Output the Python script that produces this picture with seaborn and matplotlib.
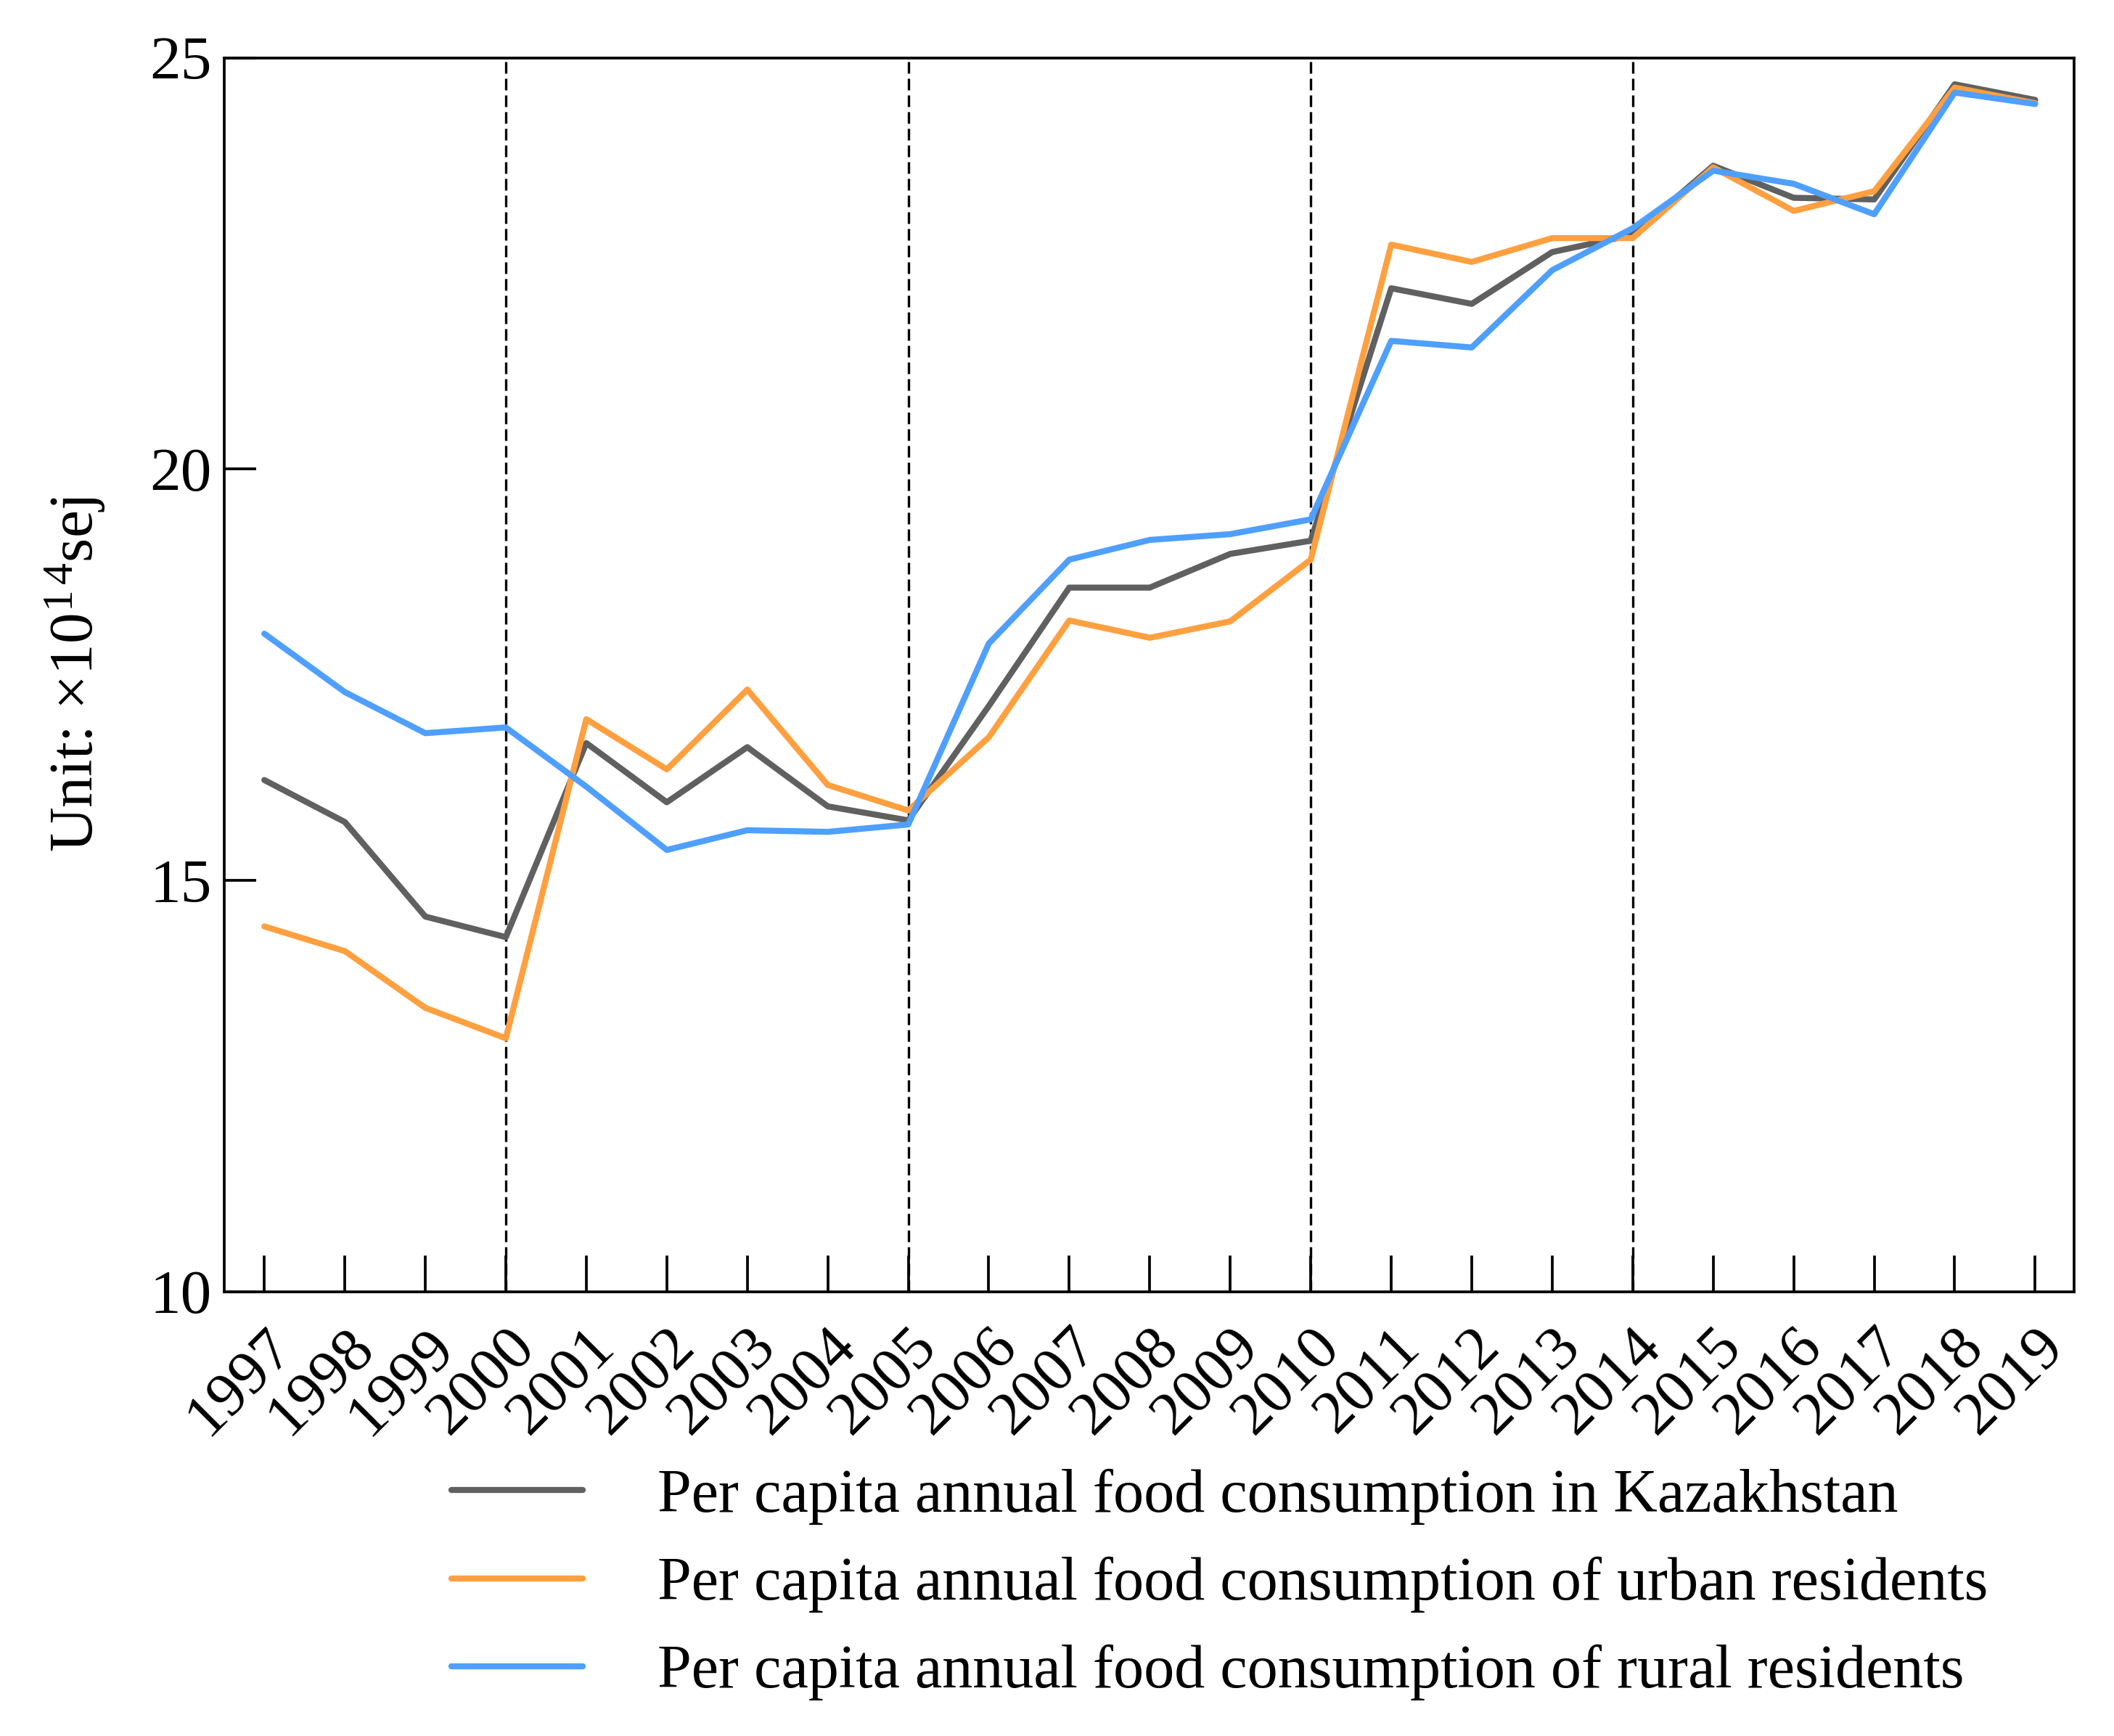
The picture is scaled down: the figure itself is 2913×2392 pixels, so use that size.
import matplotlib
matplotlib.use("Agg")
import matplotlib.pyplot as plt
import seaborn as sns
import pandas as pd

years = list(range(1997, 2020))
kazakhstan = [16.22, 15.71, 14.56, 14.31, 16.67, 15.95, 16.62, 15.90, 15.73, 17.12,
              18.56, 18.56, 18.97, 19.13, 22.20, 22.01, 22.64, 22.85, 23.69, 23.30,
              23.28, 24.68, 24.49]
urban = [14.44, 14.14, 13.45, 13.08, 16.96, 16.35, 17.32, 16.16, 15.85, 16.74,
         18.16, 17.95, 18.15, 18.90, 22.73, 22.52, 22.81, 22.81, 23.67, 23.14,
         23.38, 24.64, 24.45]
rural = [18.00, 17.29, 16.79, 16.86, 16.14, 15.37, 15.61, 15.59, 15.68, 17.88,
         18.90, 19.14, 19.21, 19.39, 21.56, 21.48, 22.42, 22.93, 23.63, 23.47,
         23.10, 24.58, 24.44]
series_names = ["Per capita annual food consumption in Kazakhstan",
                "Per capita annual food consumption of urban residents",
                "Per capita annual food consumption of rural residents"]
colors = ["#606060", "#FFA040", "#4F9FFF"]
divider_years = [2000, 2005, 2010, 2014]
y_ticks = [10, 15, 20, 25]

sns.set_style("ticks")
plt.rcParams['font.family'] = ['Liberation Serif', 'DejaVu Serif']
plt.rcParams['mathtext.fontset'] = 'custom'
plt.rcParams['mathtext.rm'] = 'Liberation Serif'
plt.rcParams['mathtext.it'] = 'Liberation Serif:italic'
plt.rcParams['text.color'] = 'black'
plt.rcParams['axes.labelcolor'] = 'black'
plt.rcParams['xtick.color'] = 'black'
plt.rcParams['ytick.color'] = 'black'

FS = 20.5

df = pd.concat([
    pd.DataFrame({"Year": years, "Value": vals, "Series": name})
    for name, vals in zip(series_names, [kazakhstan, urban, rural])
])

fig = plt.figure(figsize=(2913 / 300, 2392 / 300), dpi=300)
ax = fig.add_axes([0.106, 0.256, 0.875, 0.7106])

sns.lineplot(data=df, x="Year", y="Value", hue="Series", palette=colors,
             linewidth=2.0, ax=ax, legend=False)

for yr in divider_years:
    ax.axvline(yr, color="black", linewidth=0.8, linestyle=(0, (4.8, 2.1)), zorder=1)

ax.set_xlim(1996.5, 2019.48)
ax.set_ylim(10, 25)
ax.set_yticks(y_ticks)
ax.set_yticklabels([str(t) for t in y_ticks], fontsize=FS)
ax.set_xticks(years)
ax.set_xticklabels([str(y) for y in years], fontsize=FS, rotation=45,
                   ha="right", rotation_mode="anchor")
ax.tick_params(axis="x", direction="in", length=12, width=0.9, pad=9)
ax.tick_params(axis="y", direction="in", length=10.5, width=0.9, pad=4)
for s in ax.spines.values():
    s.set_linewidth(0.9)
    s.set_color("black")
ax.set_xlabel("")
ax.set_ylabel("Unit: ×10$^{1\\,4}$sej", fontsize=FS, labelpad=14)

handles = [plt.Line2D([], [], color=c, linewidth=2.0) for c in colors]
fig.legend(handles, series_names, loc="upper left", bbox_to_anchor=(0.2135, 0.154),
           frameon=False, fontsize=20.2, handlelength=2.15, handletextpad=1.22,
           labelspacing=0.52, borderpad=0, borderaxespad=0)

fig.savefig("out.png", dpi=300)
